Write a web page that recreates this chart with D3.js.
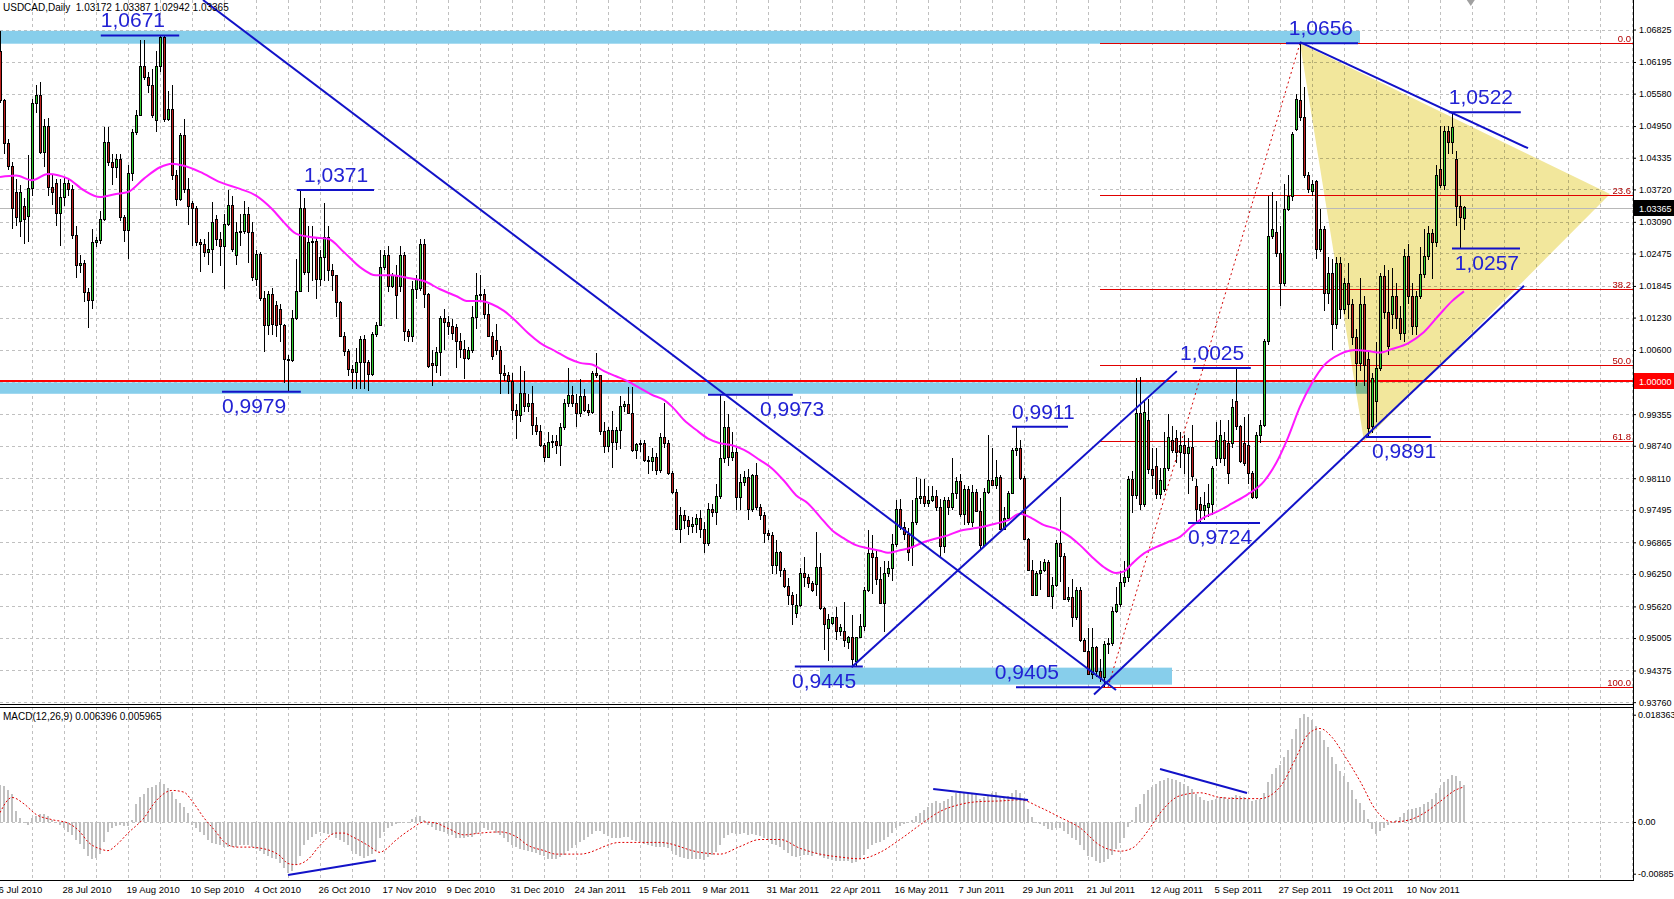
<!DOCTYPE html>
<html><head><meta charset="utf-8">
<script src="https://cdn.jsdelivr.net/npm/d3@7"></script>
<style>
html,body{margin:0;padding:0;background:#fff;overflow:hidden;}
svg{display:block;font-family:"Liberation Sans",Arial,sans-serif;}
</style></head><body>
<svg id="chart" width="1674" height="899"></svg>
<script>
// ---------------- DATA ----------------
const symbolTitle = "USDCAD,Daily  1.03172 1.03387 1.02942 1.03365";
const macdTitle = "MACD(12,26,9) 0.006396 0.005965";
const opens = [
1.0640,1.0545,1.0463,1.0418,1.0367,1.0311,1.0340,1.0320,1.0374,1.0540,
1.0555,1.0445,1.0496,1.0376,1.0385,1.0327,1.0358,1.0385,1.0373,1.0283,
1.0225,1.0230,1.0172,1.0158,1.0270,1.0273,1.0315,1.0465,1.0426,1.0415,
1.0432,1.0318,1.0293,1.0403,1.0483,1.0517,1.0611,1.0591,1.0575,1.0506,
1.0611,1.0668,1.0509,1.0528,1.0400,1.0354,1.0477,1.0373,1.0345,1.0335,
1.0270,1.0266,1.0250,1.0256,1.0315,1.0276,1.0263,1.0305,1.0341,1.0244,
1.0289,1.0292,1.0325,1.0289,1.0198,1.0247,1.0162,1.0108,1.0169,1.0147,
1.0140,1.0108,1.0043,1.0040,1.0123,1.0175,1.0335,1.0212,1.0270,1.0272,
1.0198,1.0241,1.0280,1.0215,1.0205,1.0153,1.0088,1.0059,1.0023,1.0017,
1.0036,1.0082,1.0036,1.0013,1.0091,1.0108,1.0221,1.0244,1.0185,1.0205,
1.0185,1.0244,1.0097,1.0088,1.0178,1.0180,1.0266,1.0168,1.0035,1.0031,
1.0057,1.0122,1.0115,1.0107,1.0105,1.0077,1.0062,1.0045,1.0061,1.0124,
1.0167,1.0168,1.0130,1.0088,1.0080,1.0060,1.0015,1.0011,0.9999,0.9944,
0.9934,0.9977,0.9951,0.9957,0.9915,0.9902,0.9876,0.9853,0.9882,0.9883,
0.9875,0.9911,0.9957,0.9973,0.9957,0.9937,0.9970,0.9944,0.9939,1.0015,
1.0011,0.9902,0.9873,0.9905,0.9882,0.9905,0.9951,0.9955,0.9937,0.9866,
0.9877,0.9879,0.9846,0.9845,0.9853,0.9827,0.9892,0.9879,0.9821,0.9785,
0.9713,0.9739,0.9730,0.9719,0.9722,0.9734,0.9712,0.9686,0.9752,0.9745,
0.9776,0.9850,0.9911,0.9853,0.9862,0.9775,0.9804,0.9814,0.9752,0.9817,
0.9756,0.9739,0.9704,0.9700,0.9642,0.9668,0.9632,0.9601,0.9584,0.9550,
0.9565,0.9626,0.9620,0.9607,0.9606,0.9639,0.9558,0.9520,0.9530,0.9541,
0.9515,0.9515,0.9492,0.9502,0.9456,0.9503,0.9523,0.9594,0.9665,0.9658,
0.9616,0.9569,0.9626,0.9637,0.9684,0.9752,0.9716,0.9703,0.9678,0.9726,
0.9773,0.9776,0.9763,0.9769,0.9776,0.9755,0.9680,0.9768,0.9755,0.9782,
0.9806,0.9742,0.9791,0.9726,0.9784,0.9748,0.9681,0.9785,0.9808,0.9798,
0.9814,0.9713,0.9733,0.9782,0.9866,0.9870,0.9811,0.9692,0.9632,0.9585,
0.9626,0.9633,0.9648,0.9583,0.9603,0.9685,0.9659,0.9577,0.9580,0.9541,
0.9593,0.9496,0.9476,0.9431,0.9483,0.9437,0.9424,0.9489,0.9491,0.9554,
0.9567,0.9609,0.9619,0.9810,0.9778,0.9938,0.9760,0.9925,0.9828,0.9835,
0.9781,0.9790,0.9831,0.9885,0.9890,0.9862,0.9875,0.9860,0.9872,0.9795,
0.9760,0.9750,0.9755,0.9760,0.9850,0.9850,0.9885,0.9880,0.9880,0.9960,
0.9912,0.9880,0.9875,0.9821,0.9774,0.9895,0.9915,1.0077,1.0282,1.0290,
1.0249,1.0190,1.0334,1.0360,1.0490,1.0545,1.0512,1.0399,1.0369,1.0388,
1.0256,1.0295,1.0171,1.0210,1.0110,1.0230,1.0140,1.0190,1.0150,1.0085,
1.0035,1.0150,1.0042,0.9912,0.9960,1.0025,1.0204,1.0133,1.0130,1.0165,
1.0123,1.0094,1.0243,1.0165,1.0107,1.0165,1.0207,1.0243,1.0288,1.0269,
1.0412,1.0380,1.0486,1.0464,1.0431,1.0340,1.0317];
const highs = [
1.0680,1.0548,1.0470,1.0425,1.0393,1.0380,1.0355,1.0438,1.0548,1.0574,
1.0580,1.0509,1.0510,1.0400,1.0393,1.0393,1.0395,1.0392,1.0380,1.0300,
1.0245,1.0235,1.0180,1.0295,1.0280,1.0330,1.0494,1.0494,1.0440,1.0440,
1.0440,1.0322,1.0419,1.0490,1.0527,1.0663,1.0663,1.0600,1.0605,1.0640,
1.0671,1.0671,1.0564,1.0574,1.0410,1.0482,1.0509,1.0395,1.0350,1.0340,
1.0276,1.0275,1.0290,1.0347,1.0322,1.0290,1.0325,1.0370,1.0360,1.0308,
1.0325,1.0350,1.0338,1.0308,1.0255,1.0250,1.0175,1.0175,1.0180,1.0155,
1.0150,1.0110,1.0050,1.0138,1.0237,1.0371,1.0355,1.0300,1.0300,1.0278,
1.0255,1.0345,1.0300,1.0228,1.0205,1.0156,1.0095,1.0062,1.0030,1.0063,
1.0088,1.0090,1.0040,1.0095,1.0115,1.0254,1.0254,1.0263,1.0210,1.0225,
1.0263,1.0250,1.0100,1.0195,1.0205,1.0275,1.0275,1.0170,1.0060,1.0066,
1.0127,1.0139,1.0127,1.0120,1.0110,1.0094,1.0080,1.0065,1.0145,1.0210,
1.0205,1.0178,1.0150,1.0095,1.0110,1.0068,1.0030,1.0018,1.0015,0.9955,
1.0028,1.0019,0.9975,0.9990,0.9930,0.9915,0.9880,0.9900,0.9895,0.9895,
0.9918,0.9965,1.0025,0.9990,0.9975,1.0003,0.9985,0.9955,1.0020,1.0055,
1.0011,0.9920,0.9910,0.9942,0.9910,0.9970,0.9960,0.9988,0.9988,0.9880,
0.9885,0.9885,0.9855,0.9870,0.9860,0.9899,0.9957,0.9885,0.9825,0.9790,
0.9755,0.9750,0.9737,0.9735,0.9742,0.9750,0.9725,0.9762,0.9760,0.9800,
0.9973,0.9960,0.9935,0.9900,0.9870,0.9820,0.9825,0.9828,0.9820,0.9840,
0.9760,0.9745,0.9710,0.9706,0.9690,0.9670,0.9636,0.9618,0.9590,0.9587,
0.9637,0.9657,0.9625,0.9612,0.9706,0.9665,0.9560,0.9547,0.9542,0.9560,
0.9528,0.9570,0.9505,0.9545,0.9503,0.9547,0.9600,0.9710,0.9700,0.9670,
0.9638,0.9651,0.9650,0.9703,0.9769,0.9771,0.9725,0.9715,0.9768,0.9814,
0.9810,0.9810,0.9795,0.9795,0.9788,0.9770,0.9775,0.9775,0.9850,0.9814,
0.9820,0.9797,0.9795,0.9797,0.9791,0.9772,0.9792,0.9895,0.9870,0.9846,
0.9818,0.9755,0.9786,0.9870,0.9911,0.9885,0.9815,0.9695,0.9652,0.9630,
0.9651,0.9655,0.9652,0.9620,0.9690,0.9775,0.9665,0.9600,0.9615,0.9600,
0.9600,0.9500,0.9520,0.9520,0.9485,0.9460,0.9495,0.9500,0.9560,0.9600,
0.9630,0.9650,0.9815,0.9825,1.0005,1.0008,0.9960,0.9965,0.9870,0.9870,
0.9830,0.9900,0.9935,0.9912,0.9905,0.9900,0.9895,0.9890,0.9915,0.9810,
0.9775,0.9785,0.9800,0.9835,0.9920,0.9925,0.9900,0.9925,0.9965,1.0025,
0.9915,0.9930,0.9935,0.9825,0.9900,0.9925,1.0082,1.0360,1.0366,1.0350,
1.0300,1.0383,1.0400,1.0483,1.0558,1.0656,1.0570,1.0405,1.0390,1.0390,
1.0334,1.0300,1.0240,1.0236,1.0240,1.0240,1.0200,1.0230,1.0160,1.0100,
1.0200,1.0165,1.0060,1.0015,1.0075,1.0210,1.0225,1.0215,1.0220,1.0190,
1.0145,1.0256,1.0266,1.0190,1.0175,1.0260,1.0295,1.0300,1.0296,1.0420,
1.0496,1.0496,1.0495,1.0522,1.0447,1.0360,1.0339];
const lows = [
1.0540,1.0440,1.0410,1.0295,1.0300,1.0280,1.0265,1.0270,1.0360,1.0520,
1.0440,1.0415,1.0360,1.0341,1.0300,1.0262,1.0340,1.0360,1.0276,1.0200,
1.0210,1.0153,1.0102,1.0140,1.0260,1.0265,1.0310,1.0418,1.0380,1.0395,
1.0310,1.0270,1.0236,1.0388,1.0478,1.0514,1.0585,1.0560,1.0510,1.0483,
1.0600,1.0503,1.0505,1.0390,1.0340,1.0350,1.0365,1.0302,1.0263,1.0263,
1.0211,1.0240,1.0225,1.0210,1.0263,1.0224,1.0179,1.0300,1.0250,1.0225,
1.0263,1.0285,1.0230,1.0195,1.0185,1.0155,1.0056,1.0090,1.0090,1.0085,
1.0075,0.9995,0.9979,1.0036,1.0118,1.0172,1.0205,1.0173,1.0195,1.0160,
1.0185,1.0195,1.0195,1.0175,1.0125,1.0085,1.0048,1.0010,0.9985,0.9985,
0.9985,0.9985,0.9980,1.0010,1.0085,1.0108,1.0215,1.0172,1.0180,1.0121,
1.0172,1.0078,1.0075,1.0075,1.0160,1.0175,1.0142,1.0025,0.9990,1.0016,
1.0010,1.0060,1.0090,1.0080,1.0025,1.0045,1.0003,1.0040,1.0055,1.0100,
1.0155,1.0120,1.0085,1.0040,1.0050,0.9975,1.0000,0.9975,0.9925,0.9887,
0.9920,0.9940,0.9940,0.9895,0.9895,0.9871,0.9842,0.9850,0.9870,0.9858,
0.9834,0.9905,0.9950,0.9950,0.9910,0.9930,0.9940,0.9932,0.9935,1.0005,
0.9895,0.9860,0.9862,0.9830,0.9866,0.9868,0.9940,0.9935,0.9862,0.9848,
0.9862,0.9843,0.9820,0.9825,0.9817,0.9822,0.9870,0.9818,0.9780,0.9710,
0.9685,0.9712,0.9700,0.9705,0.9705,0.9695,0.9665,0.9680,0.9735,0.9720,
0.9770,0.9840,0.9835,0.9845,0.9750,0.9750,0.9795,0.9730,0.9745,0.9750,
0.9730,0.9685,0.9690,0.9625,0.9625,0.9620,0.9598,0.9565,0.9525,0.9540,
0.9560,0.9600,0.9597,0.9590,0.9583,0.9555,0.9478,0.9455,0.9525,0.9496,
0.9505,0.9483,0.9480,0.9445,0.9447,0.9500,0.9515,0.9590,0.9586,0.9603,
0.9566,0.9512,0.9620,0.9612,0.9677,0.9710,0.9690,0.9650,0.9641,0.9720,
0.9760,0.9755,0.9755,0.9765,0.9748,0.9657,0.9665,0.9740,0.9750,0.9770,
0.9735,0.9720,0.9720,0.9716,0.9745,0.9671,0.9677,0.9780,0.9795,0.9790,
0.9710,0.9710,0.9732,0.9780,0.9855,0.9808,0.9690,0.9630,0.9583,0.9583,
0.9593,0.9628,0.9580,0.9557,0.9600,0.9610,0.9575,0.9570,0.9522,0.9535,
0.9492,0.9474,0.9428,0.9420,0.9425,0.9415,0.9405,0.9470,0.9485,0.9550,
0.9560,0.9600,0.9610,0.9743,0.9770,0.9750,0.9755,0.9820,0.9790,0.9770,
0.9770,0.9785,0.9825,0.9860,0.9840,0.9830,0.9820,0.9780,0.9805,0.9725,
0.9725,0.9730,0.9735,0.9740,0.9835,0.9840,0.9835,0.9800,0.9870,0.9905,
0.9840,0.9835,0.9800,0.9770,0.9770,0.9880,0.9910,1.0070,1.0275,1.0240,
1.0146,1.0185,1.0330,1.0350,1.0485,1.0505,1.0395,1.0365,1.0360,1.0236,
1.0250,1.0136,1.0150,1.0060,1.0100,1.0120,1.0130,1.0120,1.0070,0.9990,
1.0020,0.9990,0.9891,0.9898,0.9920,1.0020,1.0120,1.0050,1.0100,1.0100,
1.0080,1.0075,1.0150,1.0090,1.0090,1.0160,1.0200,1.0235,1.0197,1.0260,
1.0375,1.0370,1.0440,1.0440,1.0300,1.0257,1.0294];
const closes = [
1.0545,1.0463,1.0418,1.0335,1.0318,1.0367,1.0315,1.0374,1.0540,1.0555,
1.0445,1.0496,1.0376,1.0367,1.0327,1.0358,1.0385,1.0373,1.0283,1.0225,
1.0230,1.0172,1.0158,1.0270,1.0273,1.0315,1.0465,1.0426,1.0415,1.0432,
1.0318,1.0293,1.0403,1.0483,1.0517,1.0611,1.0591,1.0575,1.0517,1.0611,
1.0668,1.0509,1.0528,1.0400,1.0354,1.0477,1.0373,1.0340,1.0335,1.0270,
1.0266,1.0250,1.0256,1.0309,1.0276,1.0263,1.0305,1.0341,1.0257,1.0289,
1.0292,1.0325,1.0289,1.0202,1.0247,1.0162,1.0108,1.0169,1.0111,1.0108,
1.0111,1.0043,1.0040,1.0123,1.0175,1.0335,1.0212,1.0270,1.0272,1.0198,
1.0241,1.0280,1.0215,1.0205,1.0153,1.0088,1.0059,1.0023,1.0017,1.0036,
1.0082,1.0036,1.0013,1.0091,1.0108,1.0221,1.0244,1.0185,1.0205,1.0166,
1.0244,1.0097,1.0088,1.0178,1.0197,1.0266,1.0168,1.0028,1.0031,1.0057,
1.0122,1.0115,1.0107,1.0093,1.0077,1.0062,1.0045,1.0061,1.0124,1.0167,
1.0168,1.0130,1.0088,1.0049,1.0060,1.0015,1.0011,0.9999,0.9944,0.9934,
0.9977,0.9951,0.9957,0.9915,0.9902,0.9876,0.9853,0.9882,0.9883,0.9875,
0.9911,0.9957,0.9973,0.9957,0.9937,0.9970,0.9944,0.9939,1.0015,1.0011,
0.9902,0.9873,0.9905,0.9882,0.9905,0.9951,0.9955,0.9937,0.9866,0.9877,
0.9879,0.9846,0.9845,0.9853,0.9827,0.9892,0.9879,0.9821,0.9785,0.9713,
0.9739,0.9730,0.9719,0.9722,0.9734,0.9712,0.9686,0.9752,0.9745,0.9776,
0.9850,0.9911,0.9853,0.9862,0.9775,0.9804,0.9814,0.9752,0.9817,0.9756,
0.9739,0.9704,0.9700,0.9642,0.9668,0.9632,0.9601,0.9584,0.9567,0.9565,
0.9626,0.9620,0.9607,0.9594,0.9639,0.9558,0.9528,0.9538,0.9541,0.9515,
0.9522,0.9496,0.9502,0.9460,0.9503,0.9523,0.9594,0.9665,0.9658,0.9616,
0.9569,0.9626,0.9637,0.9684,0.9752,0.9716,0.9703,0.9668,0.9726,0.9773,
0.9776,0.9763,0.9769,0.9776,0.9755,0.9680,0.9768,0.9755,0.9782,0.9806,
0.9742,0.9791,0.9726,0.9784,0.9748,0.9681,0.9785,0.9808,0.9798,0.9814,
0.9713,0.9733,0.9782,0.9866,0.9870,0.9811,0.9692,0.9632,0.9585,0.9626,
0.9633,0.9648,0.9583,0.9603,0.9685,0.9659,0.9577,0.9580,0.9541,0.9593,
0.9496,0.9476,0.9431,0.9483,0.9437,0.9424,0.9489,0.9491,0.9554,0.9567,
0.9609,0.9619,0.9810,0.9778,0.9938,0.9760,0.9940,0.9828,0.9818,0.9781,
0.9808,0.9831,0.9892,0.9865,0.9862,0.9875,0.9860,0.9872,0.9815,0.9751,
0.9750,0.9758,0.9762,0.9831,0.9885,0.9895,0.9851,0.9821,0.9949,0.9912,
0.9845,0.9841,0.9821,0.9774,0.9895,0.9915,1.0077,1.0282,1.0295,1.0249,
1.0190,1.0334,1.0360,1.0480,1.0548,1.0512,1.0399,1.0373,1.0382,1.0256,
1.0295,1.0171,1.0210,1.0110,1.0230,1.0140,1.0190,1.0150,1.0085,1.0035,
1.0150,1.0030,0.9908,1.0006,1.0025,1.0204,1.0133,1.0068,1.0165,1.0123,
1.0094,1.0243,1.0165,1.0107,1.0165,1.0207,1.0243,1.0288,1.0269,1.0399,
1.0380,1.0486,1.0464,1.0493,1.0340,1.0318,1.0337];

// moving average (read at knots)
const maBars = [0,4,8,12,17,21,25,29,32,36,40,43,46,50,55,60,64,68,71,74,78,82,86,90,94,98,102,106,110,114,117,120,123,126,129,132,135,139,142,145,148,151,154,157,160,163,166,168,171,174,177,180,183,186,190,193,196,199,202,205,208,211,214,217,220,222,225,228,231,234,237,240,243,246,249,252,255,258,261,264,267,270,273,276,279,281,283,286,289,292,295,298,301,304,308,312,316,319,322,325,328,331,335,339,342,345,348,352,356,360,363,366];
const maValues = [1.0396,1.0399,1.0390,1.0402,1.0393,1.0370,1.0357,1.0363,1.0367,1.0393,1.0415,1.0422,1.0418,1.0406,1.0386,1.0373,1.0360,1.0334,1.0308,1.0286,1.0279,1.0276,1.0250,1.0221,1.0205,1.0205,1.0200,1.0194,1.0178,1.0165,1.0155,1.0155,1.0149,1.0136,1.0116,1.0093,1.0074,1.0057,1.0044,1.0035,1.0032,1.0019,1.0009,0.9999,0.9986,0.9973,0.9963,0.9950,0.9924,0.9905,0.9888,0.9879,0.9875,0.9866,0.9846,0.9830,0.9806,0.9778,0.9762,0.9736,0.9710,0.9694,0.9681,0.9675,0.9670,0.9666,0.9671,0.9677,0.9687,0.9694,0.9700,0.9709,0.9713,0.9717,0.9723,0.9729,0.9742,0.9733,0.9720,0.9713,0.9700,0.9681,0.9658,0.9638,0.9627,0.9630,0.9645,0.9665,0.9677,0.9687,0.9697,0.9718,0.9735,0.9745,0.9762,0.9780,0.9805,0.9840,0.9890,0.9950,0.9996,1.0030,1.0052,1.0060,1.0058,1.0055,1.0062,1.0073,1.0095,1.0130,1.0155,1.0174];

// MACD main (histogram), one value per bar
const macdHist = [
0.0063,0.0062,0.0055,0.0048,0.0019,0.0006,0.0000,-0.0005,0.0007,0.0011,
0.0013,0.0013,0.0010,0.0004,0.0000,-0.0005,-0.0010,-0.0017,-0.0023,-0.0031,
-0.0038,-0.0046,-0.0058,-0.0064,-0.0061,-0.0055,-0.0035,-0.0017,-0.0011,-0.0007,
-0.0005,-0.0006,-0.0007,0.0004,0.0030,0.0042,0.0048,0.0058,0.0060,0.0063,
0.0069,0.0065,0.0059,0.0051,0.0040,0.0033,0.0026,0.0016,-0.0005,-0.0011,
-0.0017,-0.0022,-0.0031,-0.0036,-0.0038,-0.0040,-0.0043,-0.0043,-0.0043,-0.0042,
-0.0040,-0.0040,-0.0040,-0.0043,-0.0046,-0.0049,-0.0054,-0.0058,-0.0061,-0.0064,
-0.0071,-0.0079,-0.0088,-0.0084,-0.0073,-0.0058,-0.0040,-0.0031,-0.0026,-0.0020,
-0.0017,-0.0018,-0.0020,-0.0022,-0.0028,-0.0031,-0.0035,-0.0040,-0.0049,-0.0054,
-0.0058,-0.0061,-0.0058,-0.0054,-0.0049,-0.0028,-0.0017,-0.0011,-0.0007,-0.0003,
-0.0002,-0.0001,0.0000,0.0005,0.0008,0.0011,0.0004,-0.0005,-0.0009,-0.0014,
-0.0016,-0.0017,-0.0020,-0.0023,-0.0028,-0.0028,-0.0028,-0.0026,-0.0025,-0.0021,
-0.0017,-0.0011,-0.0013,-0.0014,-0.0018,-0.0022,-0.0028,-0.0035,-0.0040,-0.0043,
-0.0046,-0.0048,-0.0049,-0.0051,-0.0053,-0.0056,-0.0058,-0.0064,-0.0064,-0.0064,
-0.0060,-0.0056,-0.0050,-0.0045,-0.0040,-0.0035,-0.0030,-0.0026,-0.0020,-0.0015,
-0.0016,-0.0020,-0.0024,-0.0027,-0.0028,-0.0027,-0.0025,-0.0026,-0.0030,-0.0033,
-0.0035,-0.0037,-0.0040,-0.0041,-0.0043,-0.0042,-0.0042,-0.0045,-0.0050,-0.0057,
-0.0060,-0.0062,-0.0063,-0.0064,-0.0063,-0.0063,-0.0065,-0.0060,-0.0057,-0.0052,
-0.0040,-0.0028,-0.0022,-0.0018,-0.0020,-0.0020,-0.0019,-0.0022,-0.0020,-0.0022,
-0.0024,-0.0028,-0.0031,-0.0037,-0.0039,-0.0043,-0.0048,-0.0053,-0.0058,-0.0060,
-0.0058,-0.0057,-0.0057,-0.0058,-0.0055,-0.0058,-0.0062,-0.0064,-0.0065,-0.0066,
-0.0066,-0.0067,-0.0067,-0.0070,-0.0068,-0.0064,-0.0056,-0.0046,-0.0040,-0.0036,
-0.0034,-0.0030,-0.0025,-0.0019,-0.0010,-0.0006,-0.0003,-0.0002,0.0003,0.0010,
0.0015,0.0020,0.0026,0.0032,0.0036,0.0032,0.0036,0.0040,0.0045,0.0050,
0.0052,0.0050,0.0048,0.0050,0.0046,0.0040,0.0042,0.0046,0.0050,0.0052,
0.0045,0.0042,0.0044,0.0050,0.0054,0.0050,0.0038,0.0022,0.0008,0.0000,
-0.0004,-0.0006,-0.0012,-0.0014,-0.0010,-0.0010,-0.0016,-0.0021,-0.0028,-0.0030,
-0.0040,-0.0048,-0.0058,-0.0060,-0.0066,-0.0070,-0.0068,-0.0064,-0.0056,-0.0046,
-0.0036,-0.0027,-0.0008,0.0003,0.0025,0.0030,0.0048,0.0055,0.0060,0.0065,
0.0070,0.0072,0.0075,0.0074,0.0072,0.0068,0.0065,0.0062,0.0056,0.0048,
0.0042,0.0038,0.0036,0.0038,0.0040,0.0042,0.0042,0.0040,0.0043,0.0046,
0.0044,0.0042,0.0040,0.0036,0.0038,0.0040,0.0050,0.0068,0.0082,0.0092,
0.0098,0.0112,0.0124,0.0142,0.0160,0.0178,0.0184,0.0180,0.0175,0.0165,
0.0155,0.0140,0.0128,0.0112,0.0100,0.0088,0.0078,0.0068,0.0055,0.0040,
0.0032,0.0020,0.0005,-0.0012,-0.0020,-0.0015,-0.0010,-0.0005,0.0000,0.0004,
0.0008,0.0016,0.0020,0.0022,0.0024,0.0026,0.0030,0.0035,0.0040,0.0050,
0.0058,0.0068,0.0074,0.0080,0.0078,0.0070,0.0064];
// MACD signal line (read at knots)
const signalBars = [0,3,6,9,13,17,20,22,25,27,29,32,36,39,43,46,48,51,54,56,59,62,66,70,72,74,77,80,84,86,88,92,95,96,99,103,106,109,112,116,120,125,129,132,136,139,145,155,165,175,180,185,190,195,200,205,210,215,220,225,230,235,240,245,250,255,260,265,270,275,280,283,287,290,295,300,305,310,315,320,324,327,330,333,336,340,344,348,352,356,360,364,366];
const signalValues = [0.0016,0.0042,0.0031,0.0013,0.0004,-0.0002,-0.0017,-0.0034,-0.0046,-0.0049,-0.0040,-0.0019,0.0007,0.0036,0.0054,0.0051,0.0036,0.0007,-0.0017,-0.0034,-0.0043,-0.0043,-0.0046,-0.0058,-0.0071,-0.0073,-0.0064,-0.0040,-0.0019,-0.0019,-0.0025,-0.0040,-0.0052,-0.0049,-0.0031,-0.0011,0.0000,-0.0002,-0.0011,-0.0022,-0.0019,-0.0017,-0.0025,-0.0040,-0.0049,-0.0055,-0.0055,-0.0035,-0.0035,-0.0052,-0.0055,-0.0042,-0.0030,-0.0030,-0.0045,-0.0055,-0.0060,-0.0063,-0.0052,-0.0030,-0.0005,0.0018,0.0030,0.0035,0.0036,0.0038,0.0025,0.0008,-0.0010,-0.0040,-0.0050,-0.0045,-0.0015,0.0015,0.0045,0.0050,0.0042,0.0040,0.0040,0.0060,0.0110,0.0150,0.0160,0.0145,0.0115,0.0070,0.0020,0.0000,0.0003,0.0015,0.0035,0.0055,0.0060];

// axis tick labels
const dateLabels = ["6 Jul 2010","28 Jul 2010","19 Aug 2010","10 Sep 2010","4 Oct 2010","26 Oct 2010","17 Nov 2010","9 Dec 2010","31 Dec 2010","24 Jan 2011","15 Feb 2011","9 Mar 2011","31 Mar 2011","22 Apr 2011","16 May 2011","7 Jun 2011","29 Jun 2011","21 Jul 2011","12 Aug 2011","5 Sep 2011","27 Sep 2011","19 Oct 2011","10 Nov 2011"];
const dateBars = [0,16,32,48,64,80,96,112,128,144,160,176,192,208,224,240,256,272,288,304,320,336,352];
const priceTicks = [1.06825,1.06195,1.05580,1.04950,1.04335,1.03720,1.03090,1.02475,1.01845,1.01230,1.00600,0.99355,0.98740,0.98110,0.97495,0.96865,0.96250,0.95620,0.95005,0.94375,0.93760];
const hiddenGridPrice = [0.99970];
const macdTicks = [0.018363,0,-0.00885];
const macdTickLabels = ["0.018363","0.00","-0.00885"];
const lastPrice = 1.03365;
const roundLevel = 1.00000;

// drawn objects
const bandFromBar = [-5,-5,205], bandToBar = [340,342,293];
const bandLow = [1.0655,0.9975,0.9410], bandHigh = [1.0680,0.9997,0.9443];
const fibHigh = 1.0656, fibLow = 0.9405, fibHighBar = 325, fibLowBar = 277, fibStartBar = 275;
const fibRatios = [0,23.6,38.2,50,61.8,100];
const fibLabels = ["0.0","23.6","38.2","50.0","61.8","100.0"];
const triBars = [325,402.5,341], triPrices = [1.0656,1.0363,0.9883];
const trendFromBar = [50.75,212.9,273.5,325], trendFromPrice = [1.07399,0.9444,0.9391,1.0658];
const trendToBar = [279,294.2,381,382], trendToPrice = [0.93996,1.0019,1.0185,1.0452];
const levelValues = [1.0671,1.0371,0.9979,0.9973,0.9911,0.9445,0.9405,1.0025,0.9724,1.0656,1.0522,1.0257,0.9891];
const levelLabels = ["1,0671","1,0371","0,9979","0,9973","0,9911","0,9445","0,9405","1,0025","0,9724","1,0656","1,0522","1,0257","0,9891"];
const levelFromBar = [25.2,74.2,55.5,177,253,198.7,254,298.2,297,321.5,362.2,363,341.5];
const levelToBar = [44.8,93.5,75.2,198.2,267,215.7,275,312.7,315,339.5,380.2,380,357.7];
const levelTextBar = [25.2,76,55.5,190,253,198,248.7,295,297,322.2,362.2,363.7,343];
const levelTextSide = ["above","above","below","below","above","below","above","above","below","above","above","below","below"];
const divFromBar = [72,233.3,290], divFromVal = [-0.00907,0.00565,0.00907];
const divToBar = [94,257,311.75], divToVal = [-0.00659,0.00377,0.00496];

// ---------------- LAYOUT ----------------
const svg = d3.select("#chart");
const axisX = 1633, mainTop = 0, mainBot = 704, macdTop = 707, macdBot = 880;
const xB = d3.scaleLinear().domain([0,366]).range([0,1464]);
const yP = d3.scaleLinear().domain([0.93724,1.07399]).range([mainBot,mainTop]);
const yM = d3.scaleLinear().domain([-0.00993,0.01968]).range([macdBot,macdTop]);
const BLUE = "#1212c8", TXTBLUE = "#2222d4", GRID = "#c0c0c0";
const AXFONT = 9;

svg.append("rect").attr("width",1674).attr("height",899).attr("fill","#fff");
const defs = svg.append("defs");
defs.append("clipPath").attr("id","cMain").append("rect").attr("x",0).attr("y",mainTop).attr("width",axisX).attr("height",mainBot-mainTop);
defs.append("clipPath").attr("id","cMacd").append("rect").attr("x",0).attr("y",macdTop).attr("width",axisX).attr("height",macdBot-macdTop);

const gMain = svg.append("g").attr("clip-path","url(#cMain)");
const gMacd = svg.append("g").attr("clip-path","url(#cMacd)");

// grid
const gridBars = d3.range(8, 410, 8).filter(b => xB(b) < axisX);
[ [gMain, mainTop, mainBot], [gMacd, macdTop, macdBot] ].forEach(([g, t, b]) => {
  g.append("g").selectAll("line").data(gridBars).join("line")
    .attr("x1", d => Math.round(xB(d)) + 0.5).attr("x2", d => Math.round(xB(d)) + 0.5)
    .attr("y1", t).attr("y2", b)
    .attr("stroke", GRID).attr("stroke-width",1).attr("stroke-dasharray","3,3");
});
gMain.append("g").selectAll("line").data(priceTicks.concat(hiddenGridPrice)).join("line")
  .attr("x1",0).attr("x2",axisX)
  .attr("y1", d => Math.round(yP(d)) + 0.5).attr("y2", d => Math.round(yP(d)) + 0.5)
  .attr("stroke", GRID).attr("stroke-dasharray","3,3");
gMacd.append("line").attr("x1",0).attr("x2",axisX)
  .attr("y1", Math.round(yM(0))+0.5).attr("y2", Math.round(yM(0))+0.5)
  .attr("stroke", GRID).attr("stroke-dasharray","3,3");

// bands
gMain.append("g").selectAll("rect").data(bandFromBar).join("rect")
  .attr("x", (d,i) => xB(bandFromBar[i]))
  .attr("width", (d,i) => xB(bandToBar[i]) - xB(bandFromBar[i]))
  .attr("y", (d,i) => yP(bandHigh[i]))
  .attr("height", (d,i) => yP(bandLow[i]) - yP(bandHigh[i]))
  .attr("fill","#87ceeb");

// triangle (multiplied with background)
gMain.append("polygon")
  .attr("points", triBars.map((b,i) => xB(b) + "," + yP(triPrices[i])).join(" "))
  .attr("fill","#f2e79c").style("mix-blend-mode","multiply");

// current price line
gMain.append("line").attr("x1",0).attr("x2",axisX)
  .attr("y1", Math.round(yP(lastPrice))+0.5).attr("y2", Math.round(yP(lastPrice))+0.5)
  .attr("stroke","#b8b8b8").attr("stroke-width",1);

// fibo
const fibRange = fibHigh - fibLow;
const fibG = gMain.append("g");
fibRatios.forEach((r,i) => {
  const p = fibHigh - r/100*fibRange;
  const yy = Math.round(yP(p)) + 0.5;
  fibG.append("line").attr("x1", xB(fibStartBar)).attr("x2", axisX).attr("y1", yy).attr("y2", yy)
    .attr("stroke","#e00000").attr("stroke-width",1);
  fibG.append("text").attr("x", axisX - 2).attr("y", yy - 2).attr("text-anchor","end")
    .attr("font-size", 9.5).attr("fill","#b00000").text(fibLabels[i]);
});
fibG.append("line").attr("x1", xB(fibLowBar)).attr("y1", yP(fibLow))
  .attr("x2", xB(fibHighBar)).attr("y2", yP(fibHigh))
  .attr("stroke","#d00000").attr("stroke-width",1).attr("stroke-dasharray","2,3");

// red round level
gMain.append("line").attr("x1",0).attr("x2",axisX)
  .attr("y1", yP(roundLevel)).attr("y2", yP(roundLevel))
  .attr("stroke","#ff0000").attr("stroke-width",2);

// candles
const candleG = gMain.append("g");
const idx = d3.range(closes.length);
candleG.selectAll("rect.wick").data(idx).join("rect").attr("class","wick")
  .attr("x", i => Math.round(xB(i)))
  .attr("y", i => Math.round(yP(highs[i])))
  .attr("width", 1)
  .attr("height", i => Math.max(1, Math.round(yP(lows[i])) - Math.round(yP(highs[i]))))
  .attr("fill", "#000");
function bodyTop(i){ return Math.round(yP(Math.max(opens[i], closes[i]))); }
function bodyBot(i){ return Math.max(bodyTop(i)+1, Math.round(yP(Math.min(opens[i], closes[i])))); }
candleG.selectAll("rect.bo").data(idx).join("rect").attr("class","bo")
  .attr("x", i => Math.round(xB(i)) - 1)
  .attr("y", i => bodyTop(i))
  .attr("width", 3)
  .attr("height", i => bodyBot(i) - bodyTop(i) + 1)
  .attr("fill", "#000");
candleG.selectAll("rect.bf").data(idx.filter(i => bodyBot(i) - bodyTop(i) > 1)).join("rect").attr("class","bf")
  .attr("x", i => Math.round(xB(i)))
  .attr("y", i => bodyTop(i) + 1)
  .attr("width", 1)
  .attr("height", i => bodyBot(i) - bodyTop(i) - 1)
  .attr("fill", i => closes[i] >= opens[i] ? "#2ecc2e" : "#c0201e");

// moving average
gMain.append("path")
  .attr("d", d3.line().x(d => xB(d)).y((d,i) => yP(maValues[i])).curve(d3.curveMonotoneX)(maBars))
  .attr("fill","none").attr("stroke","#ff18ff").attr("stroke-width",2);

// trendlines
gMain.append("g").selectAll("line").data(trendFromBar).join("line")
  .attr("x1", (d,i) => xB(trendFromBar[i])).attr("y1", (d,i) => yP(trendFromPrice[i]))
  .attr("x2", (d,i) => xB(trendToBar[i])).attr("y2", (d,i) => yP(trendToPrice[i]))
  .attr("stroke", BLUE).attr("stroke-width", 2);

// level marks with labels
const lvG = gMain.append("g");
levelValues.forEach((v,i) => {
  const yy = yP(v);
  lvG.append("line").attr("x1", xB(levelFromBar[i])).attr("x2", xB(levelToBar[i]))
    .attr("y1", yy).attr("y2", yy).attr("stroke", BLUE).attr("stroke-width", 2);
  lvG.append("text").attr("x", xB(levelTextBar[i]))
    .attr("y", levelTextSide[i] === "above" ? yy - 8 : yy + 21)
    .attr("font-size", 21).attr("fill", TXTBLUE).text(levelLabels[i]);
});

// MACD histogram
gMacd.append("g").selectAll("rect").data(idx).join("rect")
  .attr("x", i => Math.round(xB(i)) - 1)
  .attr("width", 2)
  .attr("y", i => Math.round(Math.min(yM(macdHist[i]), yM(0))))
  .attr("height", i => Math.max(1, Math.round(Math.abs(yM(macdHist[i]) - yM(0)))))
  .attr("fill", "#c0c0c0");
gMacd.append("path")
  .attr("d", d3.line().x(d => xB(d)).y((d,i) => yM(signalValues[i])).curve(d3.curveMonotoneX)(signalBars))
  .attr("fill","none").attr("stroke","#e00000").attr("stroke-width",1).attr("stroke-dasharray","2,2");
gMacd.append("g").selectAll("line").data(divFromBar).join("line")
  .attr("x1", (d,i) => xB(divFromBar[i])).attr("y1", (d,i) => yM(divFromVal[i]))
  .attr("x2", (d,i) => xB(divToBar[i])).attr("y2", (d,i) => yM(divToVal[i]))
  .attr("stroke", BLUE).attr("stroke-width", 2);

// panel borders
svg.append("line").attr("x1",0).attr("x2",axisX).attr("y1",mainBot+0.5).attr("y2",mainBot+0.5).attr("stroke","#000");
svg.append("line").attr("x1",0).attr("x2",axisX).attr("y1",macdTop+0.5).attr("y2",macdTop+0.5).attr("stroke","#000");
svg.append("line").attr("x1",0).attr("x2",axisX+1).attr("y1",macdBot+0.5).attr("y2",macdBot+0.5).attr("stroke","#000");
svg.append("line").attr("x1",axisX+0.5).attr("x2",axisX+0.5).attr("y1",0).attr("y2",macdBot+1).attr("stroke","#000");

// price axis
const pAxis = svg.append("g").attr("transform", `translate(${axisX},0)`)
  .call(d3.axisRight(yP).tickValues(priceTicks).tickSize(3).tickSizeOuter(0).tickPadding(3).tickFormat(d3.format(".5f")));
pAxis.select(".domain").remove();
pAxis.selectAll("text").attr("font-size", AXFONT).attr("font-family", '"Liberation Sans",Arial,sans-serif').attr("fill","#000");
pAxis.selectAll("line").attr("stroke","#000");

const mAxis = svg.append("g").attr("transform", `translate(${axisX},0)`)
  .call(d3.axisRight(yM).tickValues(macdTicks).tickSize(3).tickSizeOuter(0).tickPadding(2).tickFormat((d,i) => macdTickLabels[i]));
mAxis.select(".domain").remove();
mAxis.selectAll("text").attr("font-size", AXFONT).attr("font-family", '"Liberation Sans",Arial,sans-serif').attr("fill","#000");
mAxis.selectAll("line").attr("stroke","#000");

// date axis
const dAxis = svg.append("g").attr("transform", `translate(0,${macdBot})`)
  .call(d3.axisBottom(xB).tickValues(dateBars).tickSize(0).tickPadding(0).tickFormat((d,i) => dateLabels[i]));
dAxis.select(".domain").remove();
dAxis.selectAll("text").attr("text-anchor","start").attr("x", -2).attr("y", 13).attr("dy", 0)
  .attr("font-size", 9.5).attr("font-family", '"Liberation Sans",Arial,sans-serif').attr("fill","#000");

// price boxes
function priceBox(v, bg, label){
  const yy = Math.round(yP(v));
  svg.append("rect").attr("x", axisX + 1).attr("y", yy - 8).attr("width", 1674 - axisX - 1).attr("height", 16).attr("fill", bg);
  svg.append("text").attr("x", axisX + 6).attr("y", yy + 4).attr("font-size", AXFONT).attr("fill", "#fff").text(label);
}
priceBox(lastPrice, "#000", d3.format(".5f")(lastPrice));
priceBox(roundLevel, "#ff0000", d3.format(".5f")(roundLevel));

// titles
svg.append("text").attr("x", 3).attr("y", 11).attr("font-size", 10).attr("fill","#000")
  .attr("xml:space","preserve").style("white-space","pre").text(symbolTitle);
svg.append("text").attr("x", 3).attr("y", 720).attr("font-size", 10).attr("fill","#000").text(macdTitle);

// chart shift marker
svg.append("polygon").attr("points", `${xB(367.7)-4},0 ${xB(367.7)+4},0 ${xB(367.7)},6`).attr("fill","#a0a0a0");
</script>
</body></html>
